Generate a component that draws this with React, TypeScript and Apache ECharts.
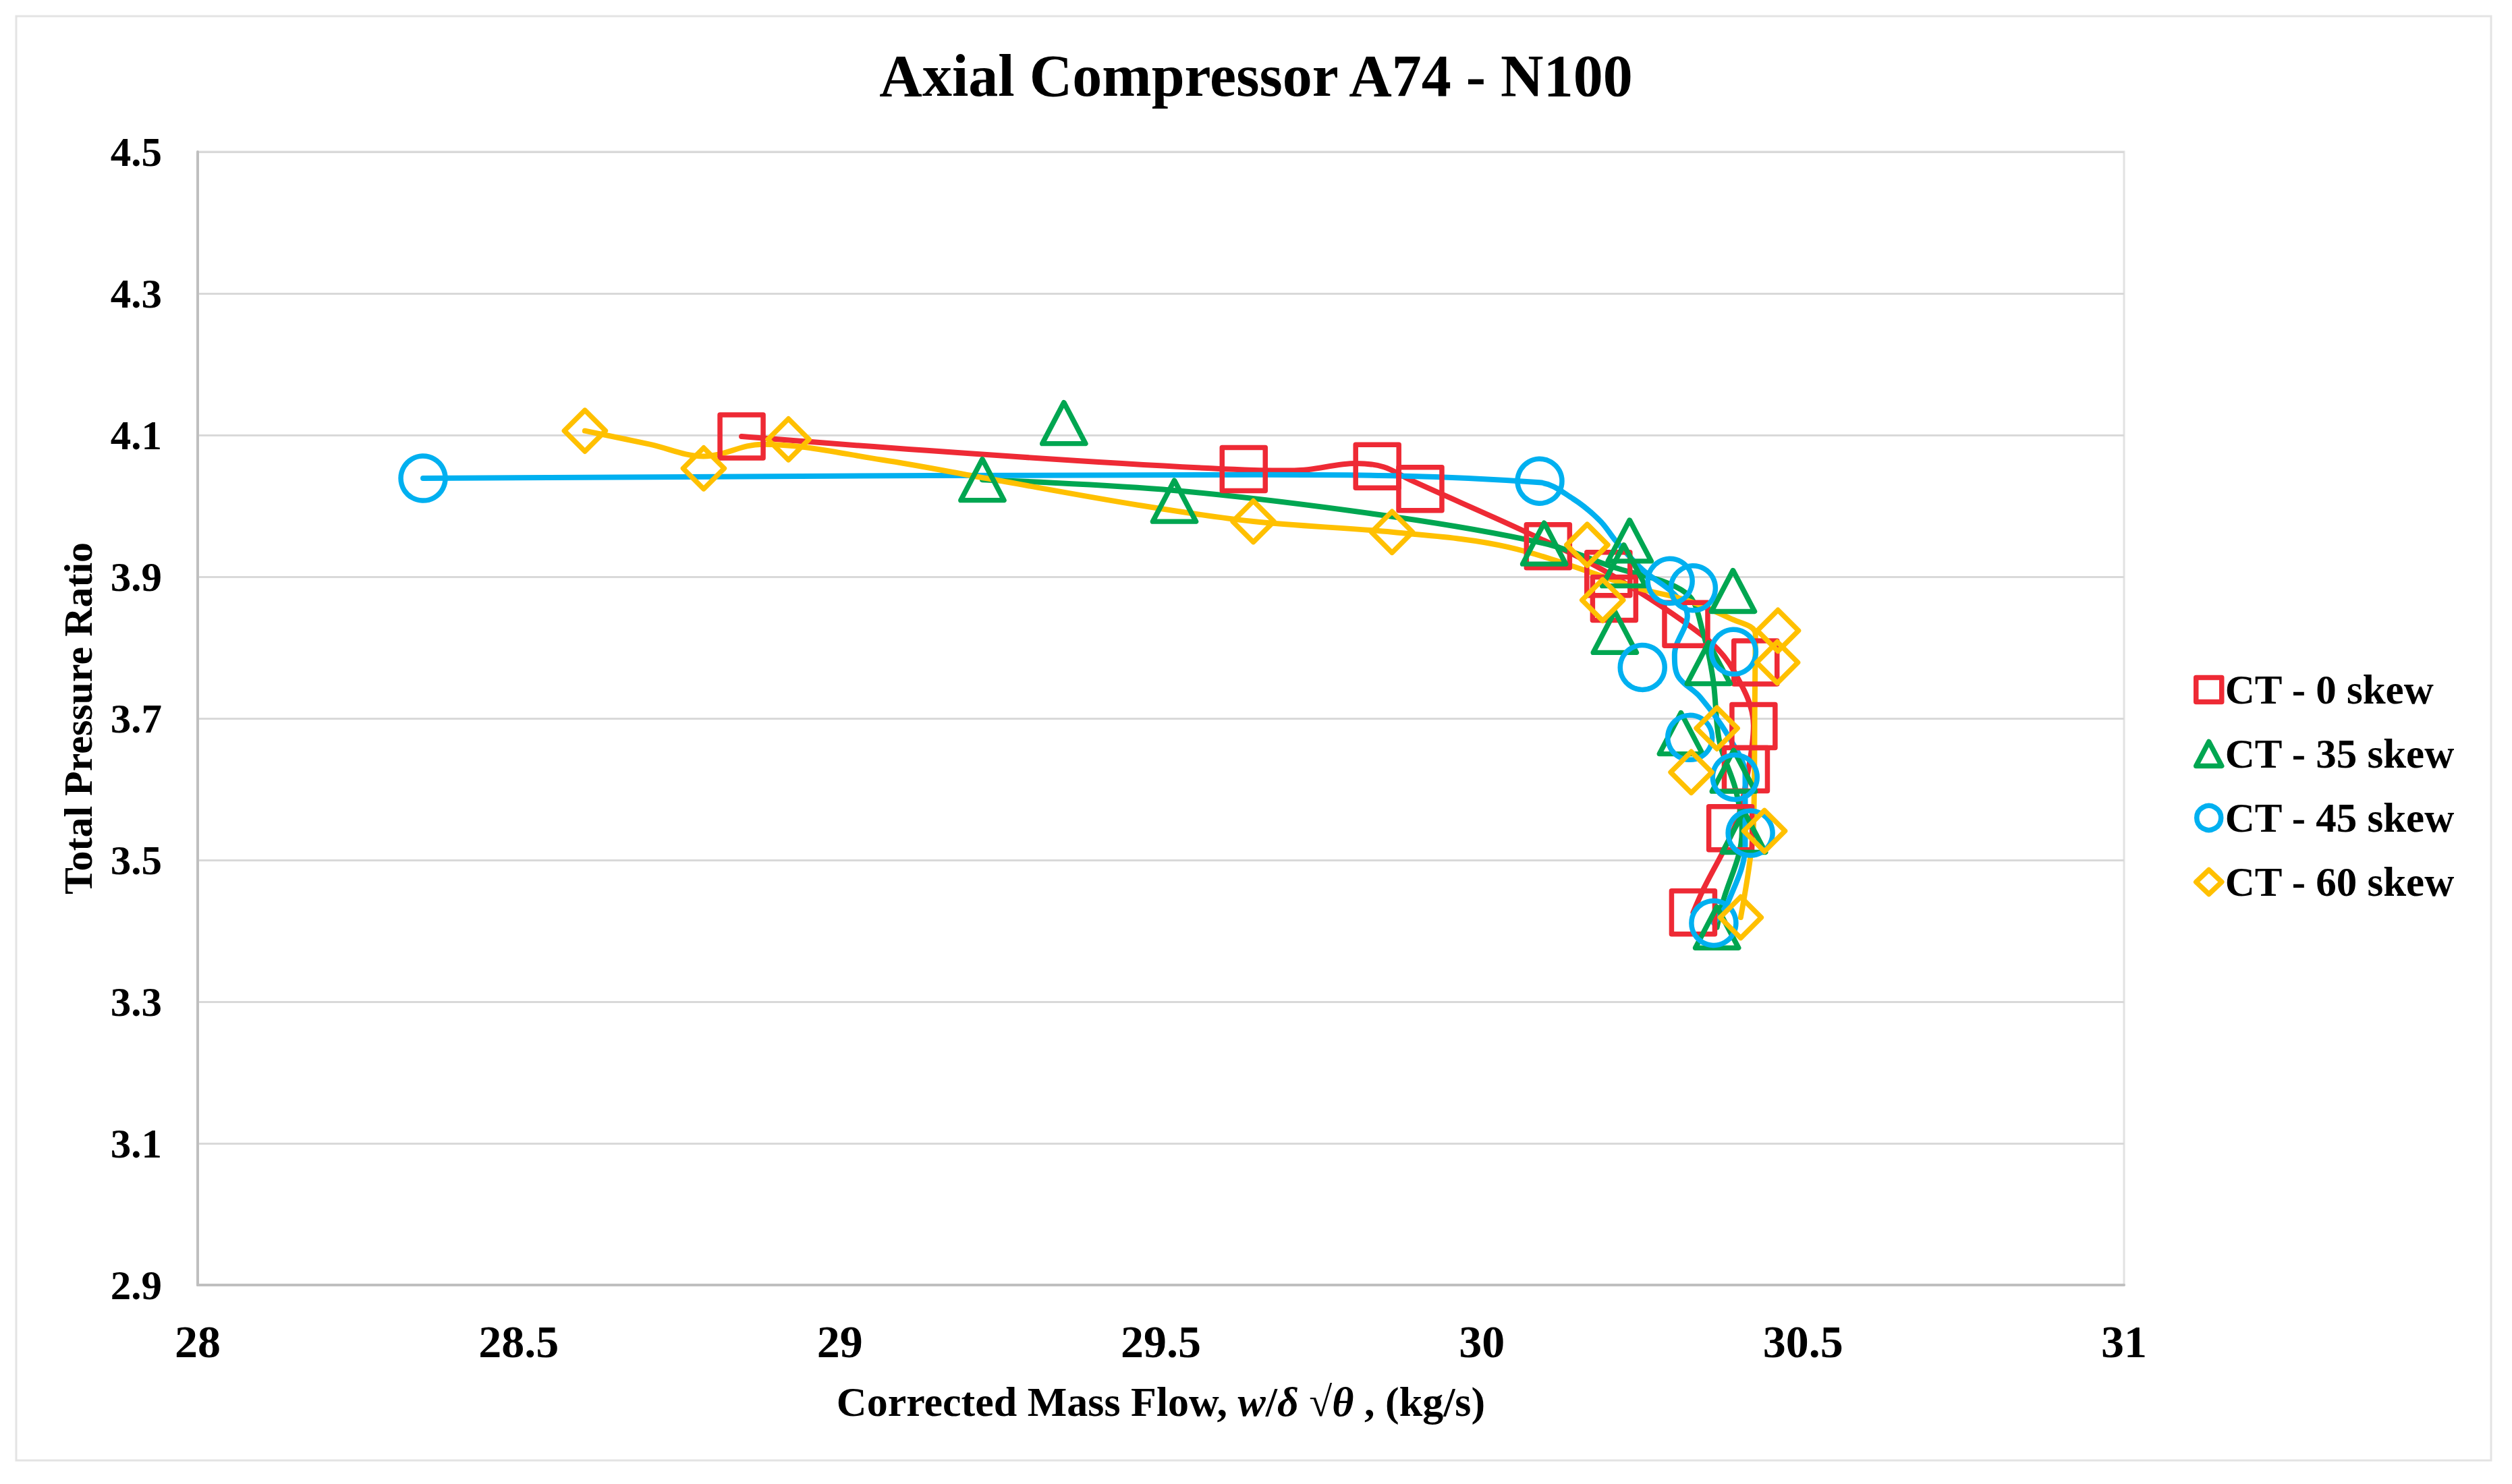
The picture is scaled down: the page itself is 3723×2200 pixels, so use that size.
import React, { useEffect, useRef } from "react";
import * as echarts from "echarts";

const FONT = "'Liberation Serif', 'Times New Roman', Times, serif";

// Axis ranges and tick spacing
const X_MIN = 28;
const X_MAX = 31;
const X_STEP = 0.5;
const Y_MIN = 2.9;
const Y_MAX = 4.5;
const Y_STEP = 0.2;

const seriesNames = ["CT - 0 skew", "CT - 35 skew", "CT - 45 skew", "CT - 60 skew"];
const seriesColors = ["#EE2A35", "#00A651", "#00B0F0", "#FFC000"];
const seriesSymbols = ["rect", "triangle", "circle", "diamond"];
const seriesSymbolSizes: (number | number[])[] = [64, [64, 61], 66, 61];

// Measured operating points: [corrected mass flow (kg/s), total pressure ratio]
const ct0Points = [
  [28.847, 4.098], [29.629, 4.052], [29.837, 4.056], [29.904, 4.024],
  [30.103, 3.943], [30.197, 3.904], [30.206, 3.869], [30.318, 3.833],
  [30.426, 3.779], [30.423, 3.689], [30.411, 3.628], [30.387, 3.545],
  [30.329, 3.426],
];
const ct35Points = [
  [29.222, 4.037], [29.349, 4.117], [29.521, 4.007], [30.097, 3.947],
  [30.23, 3.951], [30.221, 3.916], [30.207, 3.822], [30.391, 3.88],
  [30.353, 3.778], [30.31, 3.679], [30.392, 3.626], [30.408, 3.54],
  [30.366, 3.405],
];
const ct45Points = [
  [28.351, 4.039], [30.09, 4.035], [30.25, 3.772], [30.293, 3.894],
  [30.329, 3.884], [30.392, 3.794], [30.324, 3.673], [30.394, 3.617],
  [30.418, 3.538], [30.361, 3.411],
];
const ct60Points = [
  [28.603, 4.106], [28.788, 4.053], [28.92, 4.094], [29.644, 3.978],
  [29.86, 3.963], [30.164, 3.945], [30.188, 3.867], [30.461, 3.824],
  [30.46, 3.779], [30.366, 3.686], [30.326, 3.624], [30.44, 3.541],
  [30.403, 3.419],
];

// Smoothed speed-line curves for each configuration
const ct0Curve = [
  [28.847, 4.098], [29.63, 4.051], [29.708, 4.05], [29.804, 4.06],
  [29.847, 4.055], [29.89, 4.036], [30.076, 3.96], [30.197, 3.905],
  [30.345, 3.816], [30.391, 3.769], [30.423, 3.69], [30.415, 3.628],
  [30.395, 3.55], [30.345, 3.459], [30.329, 3.426],
];
const ct35Curve = [
  [29.222, 4.037], [29.52, 4.022], [29.86, 3.985], [30.097, 3.947],
  [30.2, 3.915], [30.318, 3.877], [30.345, 3.819], [30.36, 3.755],
  [30.37, 3.667], [30.395, 3.6], [30.405, 3.54], [30.374, 3.437],
  [30.366, 3.405],
];
const ct45Curve = [
  [28.351, 4.039], [29.65, 4.044], [30.09, 4.033], [30.142, 4.01],
  [30.184, 3.979], [30.209, 3.95], [30.25, 3.91], [30.3, 3.875],
  [30.32, 3.845], [30.3, 3.79], [30.305, 3.76], [30.34, 3.73],
  [30.385, 3.673], [30.41, 3.62], [30.41, 3.52], [30.385, 3.444],
  [30.361, 3.411],
];
const ct60Curve = [
  [28.603, 4.106], [28.704, 4.087], [28.788, 4.07], [28.879, 4.087],
  [29.066, 4.065], [29.228, 4.039], [29.466, 4.001], [29.644, 3.978],
  [29.86, 3.963], [30.04, 3.942], [30.247, 3.883], [30.318, 3.867],
  [30.387, 3.841], [30.426, 3.819], [30.425, 3.72], [30.423, 3.55],
  [30.416, 3.49], [30.403, 3.419],
];

const allPoints = [ct0Points, ct35Points, ct45Points, ct60Points];
const allCurves = [ct0Curve, ct35Curve, ct45Curve, ct60Curve];

const MARKER_STROKE = 7.5;
const LINE_WIDTH = 8;

function fmtX(v: number) {
  const r = Math.round(v * 10) / 10;
  return Number.isInteger(r) ? String(r) : r.toFixed(1);
}

export default function App() {
  const ref = useRef<HTMLDivElement | null>(null);

  useEffect(() => {
    if (!ref.current) return;
    const chart = echarts.init(ref.current, undefined, { renderer: "svg" });

    const curveSeries = allCurves.map((data, i) => ({
      name: seriesNames[i] + " curve",
      type: "line",
      data,
      smooth: 0.35,
      showSymbol: false,
      symbol: "none",
      lineStyle: { color: seriesColors[i], width: LINE_WIDTH, cap: "round", join: "round" },
      emphasis: { disabled: true },
      silent: true,
      z: 2 + i * 0.01,
    }));

    const pointSeries = allPoints.map((data, i) => ({
      name: seriesNames[i],
      type: "scatter",
      data,
      symbol: seriesSymbols[i],
      symbolSize: seriesSymbolSizes[i],
      itemStyle: {
        color: "rgba(0,0,0,0)",
        borderColor: seriesColors[i],
        borderWidth: MARKER_STROKE,
        borderJoin: "round",
        opacity: 1,
      },
      emphasis: { disabled: true },
      z: 3 + i * 0.01,
    }));

    const textBase = {
      fontFamily: FONT,
      fontWeight: "bold",
      color: "#000",
    };

    chart.setOption({
      animation: false,
      backgroundColor: "#ffffff",
      title: {
        text: "Axial Compressor A74 - N100",
        left: "center",
        top: 62,
        textStyle: { ...textBase, fontSize: 88, lineHeight: 90 },
      },
      legend: {
        orient: "vertical",
        left: 3251,
        top: 992,
        padding: 0,
        itemWidth: 38,
        itemHeight: 36,
        itemGap: 34,
        selectedMode: false,
        textStyle: { ...textBase, fontSize: 61 },
        data: seriesNames.map((name, i) => ({
          name,
          icon: seriesSymbols[i],
          itemStyle: {
            color: "rgba(0,0,0,0)",
            borderColor: seriesColors[i],
            borderWidth: MARKER_STROKE,
            borderJoin: "round",
          },
        })),
      },
      grid: {
        left: 293,
        right: 575,
        top: 225,
        bottom: 295,
        show: true,
        borderColor: "#E2E2E2",
        borderWidth: 3,
        backgroundColor: "transparent",
      },
      xAxis: {
        type: "value",
        min: X_MIN,
        max: X_MAX,
        interval: X_STEP,
        name: "{a|Corrected Mass Flow, }{b|w}{a|/}{b|δ}{a| √}{b|θ}{a| , (kg/s)}",
        nameLocation: "middle",
        nameGap: 142,
        nameTextStyle: {
          ...textBase,
          fontSize: 62,
          rich: {
            a: { ...textBase, fontSize: 62 },
            b: { ...textBase, fontSize: 62, fontStyle: "italic" },
          },
        },
        axisLine: { show: true, lineStyle: { color: "#BFBFBF", width: 4 } },
        axisTick: { show: false },
        splitLine: { show: false },
        axisLabel: {
          ...textBase,
          fontSize: 68,
          margin: 50,
          formatter: (v: number) => fmtX(v),
        },
      },
      yAxis: {
        type: "value",
        min: Y_MIN,
        max: Y_MAX,
        interval: Y_STEP,
        name: "Total Pressure Ratio",
        nameLocation: "middle",
        nameGap: 147,
        nameTextStyle: { ...textBase, fontSize: 60 },
        axisLine: { show: true, lineStyle: { color: "#BFBFBF", width: 4 } },
        axisTick: { show: false },
        splitLine: { show: true, lineStyle: { color: "#D9D9D9", width: 3 } },
        axisLabel: {
          ...textBase,
          fontSize: 61,
          margin: 53,
          formatter: (v: number) => v.toFixed(1),
        },
      },
      graphic: [
        {
          type: "rect",
          shape: { x: 24, y: 24, width: 3668, height: 2141 },
          style: { fill: "none", stroke: "#E3E3E3", lineWidth: 3 },
          silent: true,
          z: -1,
        },
      ],
      series: [...curveSeries, ...pointSeries],
    });

    return () => {
      chart.dispose();
    };
  }, []);

  return (
    <div
      ref={ref}
      style={{ position: "fixed", left: 0, top: 0, width: 3723, height: 2200, background: "#fff" }}
    />
  );
}
